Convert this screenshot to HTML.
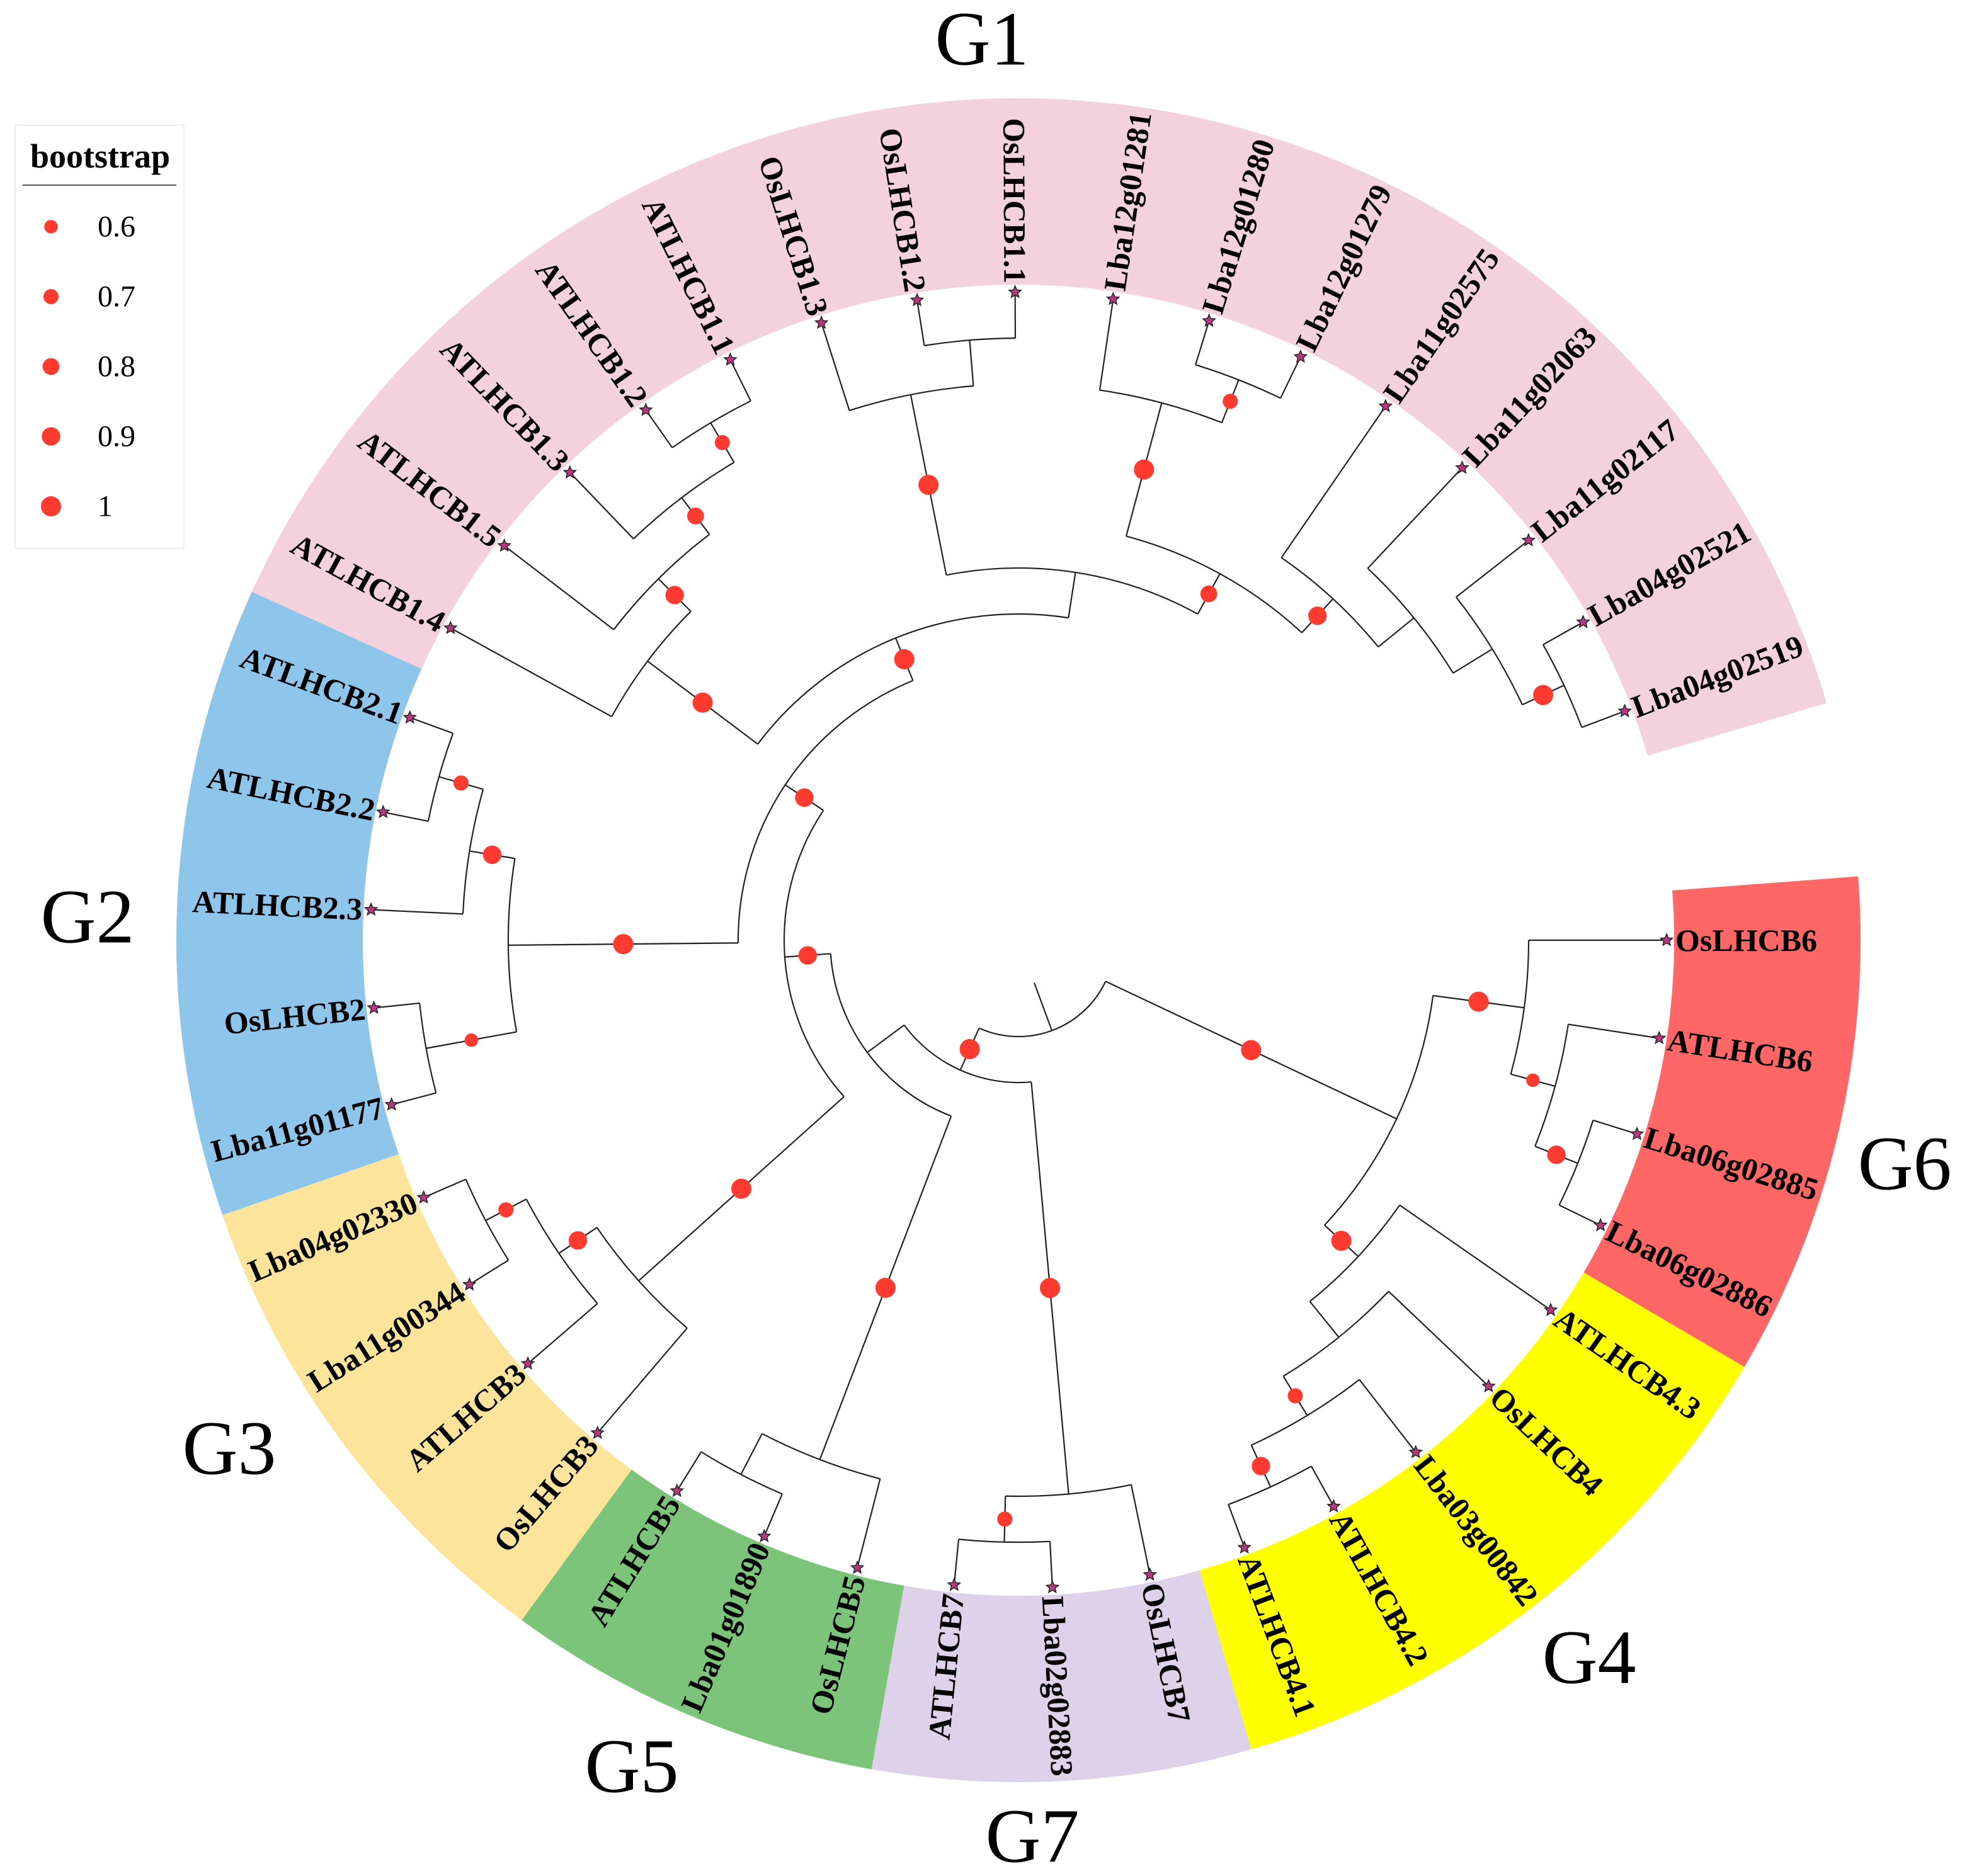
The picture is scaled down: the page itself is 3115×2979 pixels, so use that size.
<!DOCTYPE html>
<html>
<head>
<meta charset="utf-8">
<style>
html,body{margin:0;padding:0;background:#fff;}
svg{display:block;}
</style>
</head>
<body>
<svg id="chart" width="3115" height="2979" viewBox="0 0 3115 2979" xmlns="http://www.w3.org/2000/svg">
  <g id="bands"></g>
  <g id="branches"></g>
  <g id="dots"></g>
  <g id="tips"></g>
  <g id="labels"></g>
  <g id="glabels"></g>
  <g id="legend">
    <rect x="24" y="199" width="268" height="672" fill="#fff" stroke="#ececec" stroke-width="2"/>
    <text x="159" y="248" text-anchor="middle" dominant-baseline="central" font-family="'Liberation Serif', serif" font-weight="bold" font-size="54">bootstrap</text>
    <line x1="36" y1="294" x2="280" y2="294" stroke="#555" stroke-width="2"/>
  </g>
</svg>
<script>
const leafNames = ["OsLHCB6","ATLHCB6","Lba06g02885","Lba06g02886","ATLHCB4.3","OsLHCB4","Lba03g00842","ATLHCB4.2","ATLHCB4.1","OsLHCB7","Lba02g02883","ATLHCB7","OsLHCB5","Lba01g01890","ATLHCB5","OsLHCB3","ATLHCB3","Lba11g00344","Lba04g02330","Lba11g01177","OsLHCB2","ATLHCB2.3","ATLHCB2.2","ATLHCB2.1","ATLHCB1.4","ATLHCB1.5","ATLHCB1.3","ATLHCB1.2","ATLHCB1.1","OsLHCB1.3","OsLHCB1.2","OsLHCB1.1","Lba12g01281","Lba12g01280","Lba12g01279","Lba11g02575","Lba11g02063","Lba11g02117","Lba04g02521","Lba04g02519"];
const leafParents = ["G6","g6a","g6b","g6b","G4","g4a","g4b","g4c","g4c","G7","g7a","g7a","G5","g5a","g5a","G3","g3a","g3b","g3b","g2c","g2c","g2a","g2b","g2b","H","h1","h2","h3","h3","Os1","os1a","os1a","L12","l12a","l12a","M","N","O","o1","o1"];
const nodeIds =     ["root","A","G6","g6a","g6b","G4","g4a","g4b","g4c","B","G7","g7a","X","G5","g5a","Q","G3","g3a","g3b","P","G2","g2a","g2b","g2c","Z","H","h1","h2","h3","W","Os1","os1a","L","L12","l12a","M","N","O","o1"];
const nodeParents = [null,"root","A","G6","g6a","A","G4","g4a","g4b","root","B","G7","B","X","G5","X","Q","G3","g3a","Q","P","G2","g2a","G2","P","Z","H","h1","h2","Z","W","Os1","W","L","L12","L","M","N","O"];
const nodeLevels =  [12,5,3,2,1,4,3,2,1,11,2,1,10,2,1,9,3,2,1,8,3,2,1,1,7,4,3,2,1,6,2,1,5,2,1,4,3,2,1];
const nodeBoot =    [null,1,1,0.6,0.9,1,null,0.7,0.9,1,1,0.7,null,1,null,0.9,1,0.9,0.7,0.9,1,0.9,0.7,0.6,1,1,0.9,0.8,0.7,null,1,null,0.8,1,0.7,0.9,null,null,1];
const groupNames = ["G6","G4","G7","G5","G3","G2","G1"];
const groupFirstLeaf = [0,4,9,12,15,19,24];
const groupLastLeaf = [3,8,11,14,18,23,39];
const groupColors = ["#ff6666","#ffff00","#ddd2e9","#7bc47a","#fde49b","#8ec5ea","#f3d1dd"];
const groupLabelX = [3024,2523,1639,1003,364,139,1559];
const groupLabelY = [1848,2632,2916,2805,2300,1456,62];
const legendValues = [0.6,0.7,0.8,0.9,1];

const NS = "http://www.w3.org/2000/svg";
const CX = 1617, CY = 1493, TIP_R = 1029, STEP = 73.0, LEAF_STEP = 8.7;
const BAND_IN = 1041, BAND_OUT = 1337;
function mk(tag, attrs, parent){ const e=document.createElementNS(NS,tag); for(const k in attrs) e.setAttribute(k,attrs[k]); parent.appendChild(e); return e; }
function rad(d){ return d*Math.PI/180; }
function px(r,a){ return CX + r*Math.cos(rad(a)); }
function py(r,a){ return CY + r*Math.sin(rad(a)); }
function leafAngle(i){ return i*LEAF_STEP; }
function levelR(l){ return TIP_R - l*STEP; }
function dotR(b){ return 10.7 + (b-0.6)/0.4*5.3; }

const bandsG = document.getElementById('bands');
groupNames.forEach((g,k)=>{
  const a0 = leafAngle(groupFirstLeaf[k]) - LEAF_STEP/2, a1 = leafAngle(groupLastLeaf[k]) + LEAF_STEP/2;
  const large = (a1-a0)>180?1:0;
  const d = `M${px(BAND_IN,a0)},${py(BAND_IN,a0)} L${px(BAND_OUT,a0)},${py(BAND_OUT,a0)} A${BAND_OUT},${BAND_OUT} 0 ${large} 1 ${px(BAND_OUT,a1)},${py(BAND_OUT,a1)} L${px(BAND_IN,a1)},${py(BAND_IN,a1)} A${BAND_IN},${BAND_IN} 0 ${large} 0 ${px(BAND_IN,a0)},${py(BAND_IN,a0)} Z`;
  const p = mk('path',{d:d,fill:groupColors[k]},bandsG);
  
  
});

const ang = {}, rr = {}, kids = {};
nodeIds.forEach((id,i)=>{ kids[id]=[]; rr[id]=levelR(nodeLevels[i]); });
leafNames.forEach((n,i)=>{ const id='leaf'+i; ang[id]=leafAngle(i); rr[id]=TIP_R; kids[leafParents[i]].push(id); });
nodeIds.forEach((id,i)=>{ if(nodeParents[i]) kids[nodeParents[i]].push(id); });
function angleOf(id){ if(ang[id]!==undefined) return ang[id]; const c=kids[id].map(angleOf); ang[id]=c.reduce((a,b)=>a+b,0)/c.length; return ang[id]; }
angleOf('root');
const parentOf = {};
nodeIds.forEach((id,i)=>{ parentOf[id]=nodeParents[i]; });
leafNames.forEach((n,i)=>{ parentOf['leaf'+i]=leafParents[i]; });

const brG = document.getElementById('branches');
const st = {stroke:'#222','stroke-width':2.2,fill:'none'};
Object.keys(parentOf).forEach(id=>{
  const p = parentOf[id]; const a = ang[id];
  let r0 = p ? rr[p] : 72;
  const l = mk('line',Object.assign({x1:px(r0,a),y1:py(r0,a),x2:px(rr[id],a),y2:py(rr[id],a)},st),brG);
  
  
});
nodeIds.forEach(id=>{
  const c = kids[id].map(k=>ang[k]); const a0=Math.min(...c), a1=Math.max(...c), r=rr[id];
  const large=(a1-a0)>180?1:0;
  const p = mk('path',Object.assign({d:`M${px(r,a0)},${py(r,a0)} A${r},${r} 0 ${large} 1 ${px(r,a1)},${py(r,a1)}`},st),brG);
  
  
});
const dotG = document.getElementById('dots');
nodeIds.forEach((id,i)=>{
  const b = nodeBoot[i]; if(b===null) return;
  const a = ang[id]; const rm = (rr[id] + rr[nodeParents[i]])/2;
  const c = mk('circle',{cx:px(rm,a),cy:py(rm,a),r:dotR(b),fill:'#ff3b30'},dotG);
  
  
});
const tipG = document.getElementById('tips'), labG = document.getElementById('labels');
function starPath(x,y,R){ let d=''; for(let k=0;k<10;k++){ const rr2 = k%2? R*0.45 : R; const a = -Math.PI/2 + k*Math.PI/5; d += (k?'L':'M') + (x+rr2*Math.cos(a)).toFixed(1)+','+(y+rr2*Math.sin(a)).toFixed(1); } return d+'Z'; }
leafNames.forEach((n,i)=>{
  const a = leafAngle(i);
  const s = mk('path',{d:starPath(px(TIP_R,a),py(TIP_R,a),10),fill:'#b5397f',stroke:'#222','stroke-width':1.5},tipG);
  
  
  const lr = TIP_R + 14; const x = px(lr,a), y = py(lr,a);
  const flip = a>90 && a<270;
  const t = mk('text',{x:x,y:y,transform:`rotate(${flip?a+180:a} ${x} ${y})`,'text-anchor':flip?'end':'start','dominant-baseline':'central','font-family':"'Liberation Serif', serif",'font-weight':'bold','font-size':50,fill:'#000'},labG);
  t.textContent = n;
  
  
});
const glG = document.getElementById('glabels');
groupNames.forEach((g,k)=>{
  const t = mk('text',{x:groupLabelX[k],y:groupLabelY[k],'text-anchor':'middle','dominant-baseline':'central','font-family':"'Liberation Serif', serif",'font-size':122,fill:'#000'},glG);
  t.textContent = g;
  
  
});
const legG = document.getElementById('legend');
legendValues.forEach((v,k)=>{
  const y = 360 + k*111;
  const c = mk('circle',{cx:81,cy:y,r:dotR(v),fill:'#ff3b30'},legG);
  
  
  const t = mk('text',{x:155,y:y,'dominant-baseline':'central','font-family':"'Liberation Serif', serif",'font-size':48,fill:'#000'},legG);
  t.textContent = String(v);
  
  
});
</script>
</body>
</html>
